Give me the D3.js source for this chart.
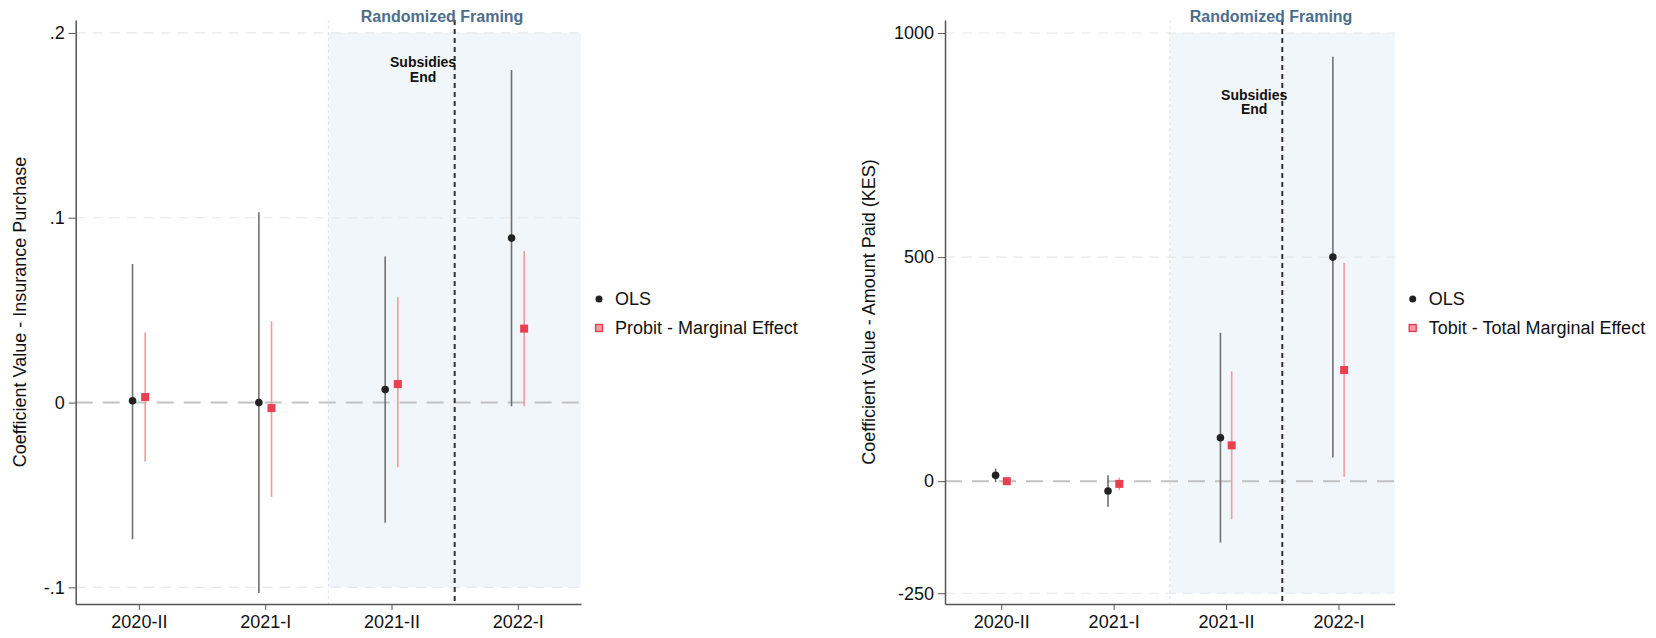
<!DOCTYPE html>
<html>
<head>
<meta charset="utf-8">
<script src="https://cdn.jsdelivr.net/npm/d3@7"></script>
<style>
body{margin:0;background:#fff;}
svg text{font-family:"Liberation Sans",Arial,Helvetica,sans-serif;fill:#111;}
</style>
</head>
<body>
<div id="chart"></div>
<script>
// ---------------- DATA ----------------
const periods = ["2020-II", "2021-I", "2021-II", "2022-I"];
const periodPos = [1, 2, 3, 4];

// insurance purchase (left)
const olsBuyCoef = [0.001, 0.000, 0.007, 0.089];
const olsBuyLo   = [-0.074, -0.103, -0.065, -0.002];
const olsBuyHi   = [0.075, 0.103, 0.079, 0.180];
const probitCoef = [0.003, -0.003, 0.010, 0.040];
const probitLo   = [-0.032, -0.051, -0.035, -0.002];
const probitHi   = [0.038, 0.044, 0.057, 0.082];
const buyTicks = [-0.1, 0, 0.1, 0.2];
const buyTickLabels = ["-.1", "0", ".1", ".2"];

// amount paid (right)
const olsPaidCoef = [13, -22, 97, 500];
const olsPaidLo   = [-2, -57, -137, 53];
const olsPaidHi   = [28, 13, 331, 947];
const tobitCoef = [0, -6, 80, 248];
const tobitLo   = [-3, -20, -85, 10];
const tobitHi   = [3, 8, 245, 487];
const paidTicks = [-250, 0, 500, 1000];
const paidTickLabels = ["-250", "0", "500", "1000"];

const framingStart = 2.5;   // shaded "Randomized Framing" period
const subsidyEnd = 3.5;     // dotted line

// ---------------- SVG ----------------
const W = 1656, H = 638;
const plotTop = 20, plotBottom = 604;
const svg = d3.select("#chart").append("svg")
    .attr("width", W).attr("height", H);

function drawPanel(p) {
    const g = svg.append("g");
    const x = d3.scaleLinear().domain([0.5, 4.5]).range([p.left, p.right]);
    const y = d3.scaleLinear().domain(p.yDomain).range([plotBottom, plotTop]);
    const yMin = d3.min(p.ticks), yMax = d3.max(p.ticks);

    // shaded framing period
    g.append("rect")
        .attr("x", x(framingStart)).attr("width", x(4.5) - x(framingStart))
        .attr("y", y(yMax)).attr("height", y(yMin) - y(yMax))
        .attr("fill", "#f0f6fa");

    // gridlines
    g.selectAll(".grid").data(p.ticks.filter(d => d !== 0)).enter()
        .append("line")
        .attr("x1", p.left).attr("x2", p.right)
        .attr("y1", d => y(d)).attr("y2", d => y(d))
        .attr("stroke", "#e6e8ea").attr("stroke-width", 1.2)
        .attr("stroke-dasharray", "10,7");

    // zero line
    g.append("line")
        .attr("x1", p.left).attr("x2", p.right)
        .attr("y1", y(0)).attr("y2", y(0))
        .attr("stroke", "#c2c2c2").attr("stroke-width", 2)
        .attr("stroke-dasharray", "17,10");

    // framing start border
    g.append("line")
        .attr("x1", x(framingStart)).attr("x2", x(framingStart))
        .attr("y1", plotTop).attr("y2", plotBottom)
        .attr("stroke", "#dde2e7").attr("stroke-width", 1)
        .attr("stroke-dasharray", "3,3");

    // subsidies end
    g.append("line")
        .attr("x1", x(subsidyEnd)).attr("x2", x(subsidyEnd))
        .attr("y1", plotTop).attr("y2", plotBottom)
        .attr("stroke", "#333").attr("stroke-width", 2)
        .attr("stroke-dasharray", "5,4");

    //-----------------------------AXES-----------------------------//
    const yaxis = d3.axisLeft(y).tickValues(p.ticks)
        .tickFormat((d, i) => p.tickLabels[i])
        .tickSize(7).tickSizeOuter(0).tickPadding(4);
    const ya = g.append("g").attr("transform", "translate(" + p.left + ",0)").call(yaxis);
    ya.select(".domain").attr("stroke", "#555").attr("stroke-width", 1.5);
    ya.selectAll(".tick line").attr("stroke", "#555");
    ya.selectAll("text").attr("font-size", 18).style("font-family", "Liberation Sans, Arial, sans-serif");

    const xaxis = d3.axisBottom(x).tickValues(periodPos)
        .tickFormat((d, i) => periods[i])
        .tickSize(6).tickSizeOuter(0).tickPadding(5);
    const xa = g.append("g").attr("transform", "translate(0," + plotBottom + ")").call(xaxis);
    xa.select(".domain").attr("stroke", "#555").attr("stroke-width", 1.5);
    xa.selectAll(".tick line").attr("stroke", "#555");
    xa.selectAll("text").attr("font-size", 18).style("font-family", "Liberation Sans, Arial, sans-serif");

    // y title
    g.append("text")
        .attr("transform", "translate(" + p.titleX + "," + ((plotTop + plotBottom) / 2) + ") rotate(-90)")
        .attr("text-anchor", "middle").attr("dy", "0.35em")
        .attr("font-size", 18)
        .text(p.title);

    //----------------------------SERIES----------------------------//
    const off = 0.05;
    // OLS
    g.selectAll(".olsci").data(periodPos).enter().append("line")
        .attr("x1", (d) => x(d - off)).attr("x2", (d) => x(d - off))
        .attr("y1", (d, i) => y(p.olsLo[i])).attr("y2", (d, i) => y(p.olsHi[i]))
        .attr("stroke", "#707070").attr("stroke-width", 1.6);
    // second model
    g.selectAll(".mci").data(periodPos).enter().append("line")
        .attr("x1", (d) => x(d + off)).attr("x2", (d) => x(d + off))
        .attr("y1", (d, i) => y(p.mLo[i])).attr("y2", (d, i) => y(p.mHi[i]))
        .attr("stroke", "#f29aa3").attr("stroke-width", 1.6);

    g.selectAll(".olspt").data(periodPos).enter().append("circle")
        .attr("cx", (d) => x(d - off)).attr("cy", (d, i) => y(p.olsCoef[i]))
        .attr("r", 3.8).attr("fill", "#222");
    g.selectAll(".mpt").data(periodPos).enter().append("rect")
        .attr("x", (d) => x(d + off) - 4).attr("y", (d, i) => y(p.mCoef[i]) - 4)
        .attr("width", 8).attr("height", 8).attr("fill", "#e8404f");

    // annotations
    g.append("text")
        .attr("x", x((framingStart + subsidyEnd) / 2 + 0.4)).attr("y", 22)
        .attr("text-anchor", "middle").attr("font-size", 16).attr("font-weight", "bold")
        .style("fill", "#4d6d8c")
        .text("Randomized Framing");
    const st = g.append("text")
        .attr("x", x(3.25)).attr("y", y(p.subsidyY))
        .attr("text-anchor", "middle").attr("font-size", 14).attr("font-weight", "bold");
    st.append("tspan").attr("x", x(3.25)).attr("dy", "0.35em").text("Subsidies");
    st.append("tspan").attr("x", x(3.25)).attr("dy", "1.05em").text("End");

    //----------------------------LEGEND----------------------------//
    const lx = p.right + 18;
    g.append("circle").attr("cx", lx).attr("cy", 299).attr("r", 3.5).attr("fill", "#222");
    g.append("text").attr("x", lx + 16).attr("y", 299).attr("dy", "0.35em")
        .attr("font-size", 18).text("OLS");
    g.append("rect").attr("x", lx - 3.5).attr("y", 328 - 3.5).attr("width", 7).attr("height", 7)
        .attr("fill", "#f49aa3").attr("stroke", "#e23a4a").attr("stroke-width", 1.3);
    g.append("text").attr("x", lx + 16).attr("y", 328).attr("dy", "0.35em")
        .attr("font-size", 18).text(p.legend);
}

drawPanel({
    left: 75.7, right: 581, yDomain: [-0.109, 0.207],
    ticks: buyTicks, tickLabels: buyTickLabels,
    olsCoef: olsBuyCoef, olsLo: olsBuyLo, olsHi: olsBuyHi,
    mCoef: probitCoef, mLo: probitLo, mHi: probitHi,
    title: "Coefficient Value - Insurance Purchase", titleX: 20,
    legend: "Probit - Marginal Effect", subsidyY: 0.184
});

drawPanel({
    left: 945, right: 1394.7, yDomain: [-274, 1029],
    ticks: paidTicks, tickLabels: paidTickLabels,
    olsCoef: olsPaidCoef, olsLo: olsPaidLo, olsHi: olsPaidHi,
    mCoef: tobitCoef, mLo: tobitLo, mHi: tobitHi,
    title: "Coefficient Value - Amount Paid (KES)", titleX: 869,
    legend: "Tobit - Total Marginal Effect", subsidyY: 862
});
</script>
</body>
</html>
